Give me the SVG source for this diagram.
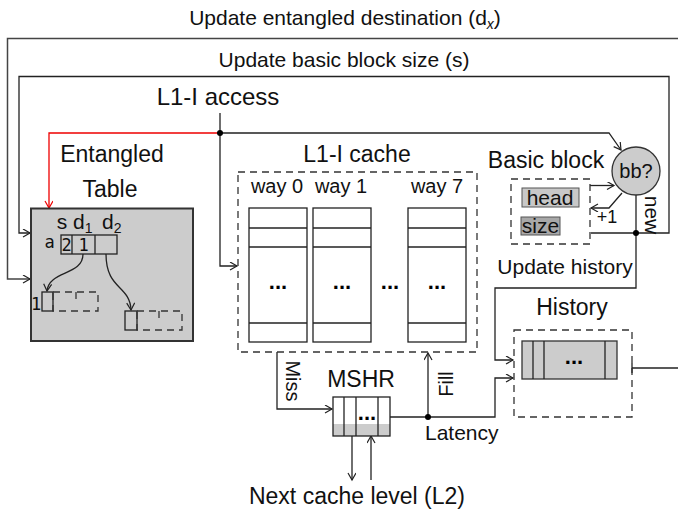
<svg xmlns="http://www.w3.org/2000/svg" width="678" height="510" viewBox="0 0 678 510">
<style>
text{font-family:"Liberation Sans",Arial,sans-serif;fill:#111}
.mono{font-family:"DejaVu Sans Mono","Liberation Mono",monospace}
.ln{fill:none;stroke:#222;stroke-width:1.3}
.gl{fill:none;stroke:#444;stroke-width:1.5}
.dash{fill:none;stroke:#333;stroke-width:1.3;stroke-dasharray:7,5}
.box{stroke:#222;stroke-width:1.3}
.dots{font-weight:bold;font-size:22px;fill:#000}
</style>
<defs>
<marker id="ar" markerWidth="10" markerHeight="10" refX="8" refY="4" orient="auto" markerUnits="userSpaceOnUse">
<path d="M1,0 L8,4 L1,8" fill="none" stroke="#222" stroke-width="1.2"/>
</marker>
<marker id="arr" markerWidth="10" markerHeight="10" refX="8" refY="4" orient="auto" markerUnits="userSpaceOnUse">
<path d="M1,0 L8,4 L1,8" fill="none" stroke="#e00" stroke-width="1.2"/>
</marker>
</defs>

<g id="labels">
<text x="345" y="25" font-size="21" text-anchor="middle">Update entangled destination (d<tspan font-size="14" font-style="italic" dy="4">x</tspan><tspan dy="-4">)</tspan></text>
<text x="344" y="67" font-size="21" text-anchor="middle">Update basic block size (s)</text>
<text x="218" y="105" font-size="24" text-anchor="middle">L1-I access</text>
</g>

<g id="connectors">
<polyline class="gl" points="678,38.5 7.5,38.5 7.5,279 30,279" marker-end="url(#ar)"/>
<polyline class="ln" points="591,233 669,233 669,76.5 19,76.5 19,233 30,233" marker-end="url(#ar)"/>
<polyline class="ln" points="220,113 220,266 237,266" marker-end="url(#ar)"/>
<polyline fill="none" stroke="#e00" stroke-width="1.3" points="220,133 49,133 49,208" marker-end="url(#arr)"/>
<polyline class="ln" points="220,133 609,133 621,150" marker-end="url(#ar)"/>
<circle cx="220" cy="133" r="3" fill="#000"/>
<line class="ln" x1="590" y1="185.5" x2="614" y2="185.5" marker-end="url(#ar)"/>
<polyline class="ln" points="622,193 609,208 591,208" marker-end="url(#ar)"/>
<polyline class="ln" points="636,195 636,288 495,288 495,360 513,360" marker-end="url(#ar)"/>
<circle cx="636" cy="233" r="3" fill="#000"/>
<polyline class="ln" points="277,352 277,409 332,409" marker-end="url(#ar)"/>
<polyline class="ln" points="390,417 495,417 495,378 513,378" marker-end="url(#ar)"/>
<line class="ln" x1="428" y1="417" x2="428" y2="353" marker-end="url(#ar)"/>
<circle cx="428" cy="417" r="3" fill="#000"/>
<line class="ln" x1="632" y1="368" x2="678" y2="368"/>
<line class="ln" x1="632" y1="363" x2="632" y2="373"/>
<line class="ln" x1="352" y1="436" x2="352" y2="480" marker-end="url(#ar)"/>
<line class="ln" x1="371" y1="480" x2="371" y2="436" marker-end="url(#ar)"/>
<text x="286" y="381" font-size="20" text-anchor="middle" transform="rotate(90 286 381)">Miss</text>
<text x="453" y="384" font-size="20" text-anchor="middle" transform="rotate(-90 453 384)">Fill</text>
<text x="425" y="440" font-size="21">Latency</text>
<text x="357" y="504" font-size="23" text-anchor="middle">Next cache level (L2)</text>
<text x="645" y="215" font-size="21" text-anchor="middle" transform="rotate(90 645 215)">new</text>
<text x="607" y="223" font-size="18" text-anchor="middle">+1</text>
<text x="565" y="274" font-size="21" text-anchor="middle">Update history</text>
</g>

<g id="entangled-table">
<text x="112" y="162" font-size="23" text-anchor="middle">Entangled</text>
<text x="110" y="197" font-size="23" text-anchor="middle">Table</text>
<rect x="31" y="208.5" width="162" height="132.5" fill="#cccccc" stroke="#333" stroke-width="2"/>
<text x="62" y="229" font-size="21" text-anchor="middle">s</text>
<text x="73" y="229" font-size="21">d<tspan font-size="14" dy="4">1</tspan></text>
<text x="102" y="229" font-size="21">d<tspan font-size="14" dy="4">2</tspan></text>
<text class="mono" x="49.5" y="248" font-size="17" text-anchor="middle">a</text>
<rect class="box" x="61" y="235" width="56" height="19" fill="none"/>
<line class="box" x1="72" y1="235" x2="72" y2="254"/>
<line class="box" x1="95" y1="235" x2="95" y2="254"/>
<text class="mono" x="66.5" y="251" font-size="17" text-anchor="middle">2</text>
<text class="mono" x="83.5" y="251" font-size="17" text-anchor="middle">1</text>
<path class="ln" d="M83,254 C83,276 49,270 47,291" marker-end="url(#ar)"/>
<path class="ln" d="M106,254 C106,290 130,285 131,310" marker-end="url(#ar)"/>
<text class="mono" x="36" y="310" font-size="17" text-anchor="middle">1</text>
<rect class="box" x="42" y="292" width="11" height="19" fill="none"/>
<rect class="dash" x="53" y="292" width="45" height="19"/>
<line class="dash" x1="76" y1="292" x2="76" y2="300"/>
<rect class="box" x="125" y="311" width="12" height="19" fill="none"/>
<rect class="dash" x="137" y="311" width="45" height="19"/>
<line class="dash" x1="159" y1="311" x2="159" y2="319"/>
</g>

<g id="l1i-cache">
<text x="357" y="162" font-size="23" text-anchor="middle">L1-I cache</text>
<rect class="dash" x="238" y="172" width="239" height="180"/>
<text x="277" y="193" font-size="20" text-anchor="middle">way 0</text>
<text x="341" y="193" font-size="20" text-anchor="middle">way 1</text>
<text x="437" y="193" font-size="20" text-anchor="middle">way 7</text>
<g fill="none" class="box">
<rect x="249" y="208" width="58" height="134"/>
<line x1="249" y1="228" x2="307" y2="228"/><line x1="249" y1="247" x2="307" y2="247"/><line x1="249" y1="323" x2="307" y2="323"/>
<rect x="313" y="208" width="58" height="134"/>
<line x1="313" y1="228" x2="371" y2="228"/><line x1="313" y1="247" x2="371" y2="247"/><line x1="313" y1="323" x2="371" y2="323"/>
<rect x="408" y="208" width="58" height="134"/>
<line x1="408" y1="228" x2="466" y2="228"/><line x1="408" y1="247" x2="466" y2="247"/><line x1="408" y1="323" x2="466" y2="323"/>
</g>
<text class="dots" x="278" y="289" text-anchor="middle">...</text>
<text class="dots" x="342" y="289" text-anchor="middle">...</text>
<text class="dots" x="390" y="289" text-anchor="middle">...</text>
<text class="dots" x="437" y="289" text-anchor="middle">...</text>
</g>

<g id="bb-check">
<circle cx="636" cy="171" r="24" fill="#cccccc" stroke="#333" stroke-width="1.3"/>
<text x="636" y="178" font-size="20" text-anchor="middle">bb?</text>
</g>

<g id="basic-block">
<text x="546" y="168" font-size="23" text-anchor="middle">Basic block</text>
<rect class="dash" x="511" y="179" width="79" height="65"/>
<rect x="522" y="188" width="57" height="19" fill="#c8c8c8" stroke="#555" stroke-width="1"/>
<text x="550" y="205" font-size="21" text-anchor="middle">head</text>
<rect x="521" y="217" width="39" height="18" fill="#a8a8a8" stroke="#555" stroke-width="1"/>
<text x="540.5" y="233" font-size="21" text-anchor="middle">size</text>
</g>

<g id="history">
<text x="572" y="315" font-size="23" text-anchor="middle">History</text>
<rect class="dash" x="514" y="330" width="118" height="87"/>
<rect x="522" y="341" width="95" height="38" fill="#cccccc" stroke="#333" stroke-width="1.3"/>
<line class="box" x1="533" y1="341" x2="533" y2="379"/>
<line class="box" x1="544" y1="341" x2="544" y2="379"/>
<line class="box" x1="605" y1="341" x2="605" y2="379"/>
<text class="dots" x="574" y="364" text-anchor="middle">...</text>
</g>

<g id="mshr">
<text x="361" y="387" font-size="23" text-anchor="middle">MSHR</text>
<rect x="333" y="424" width="57" height="12" fill="#cccccc"/>
<rect class="box" x="333" y="397" width="57" height="39" fill="none"/>
<line class="box" x1="344" y1="397" x2="344" y2="436"/>
<line class="box" x1="356" y1="397" x2="356" y2="436"/>
<line class="box" x1="378" y1="397" x2="378" y2="436"/>
<text class="dots" x="367" y="420" font-size="18" text-anchor="middle">...</text>
</g>
</svg>
